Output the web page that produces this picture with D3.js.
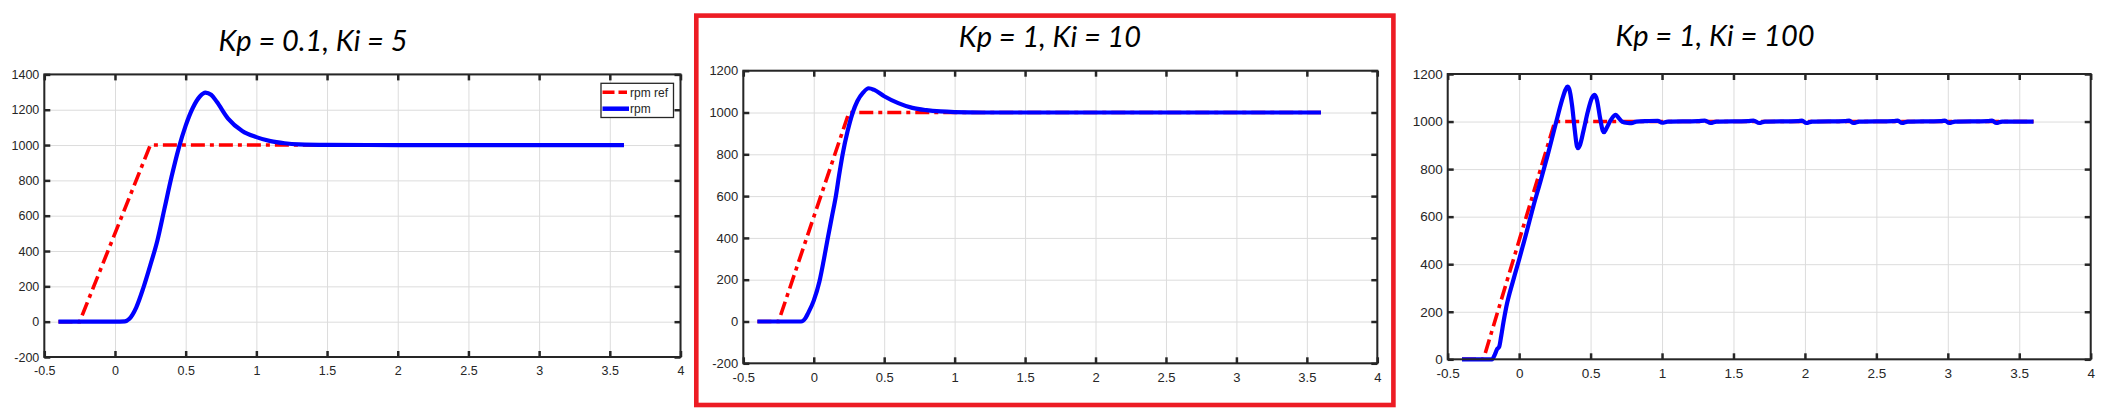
<!DOCTYPE html>
<html>
<head>
<meta charset="utf-8">
<script src="https://cdn.jsdelivr.net/npm/d3@7"></script>
<style>
  html, body { margin: 0; padding: 0; background: #ffffff; }
  svg { display: block; }
  .tick text { font-family: "Liberation Sans", Arial, sans-serif; fill: #262626; }
</style>
</head>
<body>
<svg id="chart" width="2110" height="420"></svg>
<script>
// ---------------- DATA ----------------
const titles = ["Kp = 0.1, Ki = 5", "Kp = 1, Ki = 10", "Kp = 1, Ki = 100"];
const seriesNames = ["rpm ref", "rpm"];
const xTicks = [-0.5, 0, 0.5, 1, 1.5, 2, 2.5, 3, 3.5, 4];
const yTicks1 = [-200, 0, 200, 400, 600, 800, 1000, 1200, 1400];
const yTicks2 = [-200, 0, 200, 400, 600, 800, 1000, 1200];
const yTicks3 = [0, 200, 400, 600, 800, 1000, 1200];

// reference speed (rpm ref), same ramp in all three runs
const refTime = [-0.4, -0.25, 0.25, 3.6];
const refRpm  = [0, 0, 1000, 1000];

// Kp = 0.1, Ki = 5
const p1Time = [-0.4, 0.0, 0.07, 0.1, 0.15, 0.2, 0.25, 0.3, 0.35, 0.4, 0.45, 0.5, 0.55, 0.6, 0.64, 0.68, 0.72, 0.8, 0.9, 1.0, 1.1, 1.2, 1.3, 1.5, 2.0, 3.6];
const p1Rpm  = [0, 0, 2, 15, 80, 190, 320, 460, 640, 820, 980, 1110, 1210, 1275, 1297, 1285, 1245, 1150, 1080, 1045, 1022, 1010, 1004, 1001, 1000, 1000];

// Kp = 1, Ki = 10
const p2Time = [-0.4, -0.09, -0.06, -0.04, 0.0, 0.04, 0.07, 0.1, 0.13, 0.157, 0.18, 0.205, 0.24, 0.277, 0.31, 0.35, 0.39, 0.43, 0.5, 0.6, 0.7, 0.8, 0.9, 1.0, 1.2, 3.6];
const p2Rpm  = [0, 0, 15, 40, 100, 190, 290, 400, 505, 600, 700, 800, 910, 1000, 1055, 1095, 1116, 1108, 1078, 1045, 1022, 1011, 1005, 1002, 1000, 1000];

// Kp = 1, Ki = 100
const p3Time = [-0.4, -0.19, -0.17, -0.155, -0.14, -0.125, -0.11, -0.09, -0.04, 0.0, 0.05, 0.1, 0.15, 0.2, 0.26, 0.3, 0.325, 0.338, 0.35, 0.37, 0.39, 0.405, 0.413, 0.425, 0.45, 0.48, 0.51, 0.529, 0.545, 0.565, 0.585, 0.594, 0.61, 0.64, 0.665, 0.676, 0.69, 0.72, 0.76, 0.786, 0.82, 0.9, 0.97, 1.0, 1.04, 1.25, 1.3, 1.34, 1.38, 1.6, 1.64, 1.68, 1.72, 1.95, 1.98, 2.01, 2.05, 2.28, 2.31, 2.34, 2.38, 2.62, 2.65, 2.68, 2.72, 2.95, 2.98, 3.01, 3.05, 3.28, 3.31, 3.34, 3.38, 3.6];
const p3Rpm  = [0, 0, 20, 42, 52, 100, 155, 220, 335, 420, 530, 645, 750, 860, 1000, 1090, 1135, 1147, 1138, 1070, 960, 895, 888, 900, 960, 1040, 1100, 1112, 1090, 1020, 962, 955, 970, 1005, 1025, 1028, 1020, 1000, 994, 993, 1000, 1002, 1003, 995, 1000, 1002, 1004, 994, 1000, 1002, 1004, 994, 1000, 1002, 1004, 994, 1000, 1002, 1004, 994, 1000, 1002, 1004, 994, 1000, 1002, 1004, 994, 1000, 1002, 1004, 994, 1000, 1000];

// ---------------- DRAW ----------------
const svg = d3.select("#chart");
const REF_COLOR = "#ff0000", RPM_COLOR = "#0000ff", AX = "#262626", GRID = "#dcdcdc";

const panels = [
  { title: 0, time: p1Time, rpm: p1Rpm, yTicks: yTicks1, L: 44.3, R: 680.5, T: 74.4, B: 357, fs: 12.5, titleX: 313, titleY: 51, legend: true },
  { title: 1, time: p2Time, rpm: p2Rpm, yTicks: yTicks2, L: 743.3, R: 1377.3, T: 70.7, B: 363.3, fs: 13, titleX: 1050, titleY: 46.5, legend: false },
  { title: 2, time: p3Time, rpm: p3Rpm, yTicks: yTicks3, L: 1447.7, R: 2090.7, T: 74, B: 359.3, fs: 13.5, titleX: 1715, titleY: 46, legend: false }
];

function drawPanel(p) {
  const g = svg.append("g");
  const x = d3.scaleLinear().domain([xTicks[0], xTicks[xTicks.length - 1]]).range([p.L, p.R]);
  const yDom = d3.extent(p.yTicks);
  const y = d3.scaleLinear().domain(yDom).range([p.B, p.T]);
  const W = p.R - p.L, H = p.B - p.T;

  g.append("rect").attr("x", p.L).attr("y", p.T).attr("width", W).attr("height", H).attr("fill", "#fff");

  // grid
  const gx = g.append("g").attr("transform", `translate(0,${p.B})`)
    .call(d3.axisBottom(x).tickValues(xTicks).tickSize(-H).tickFormat(""));
  gx.select(".domain").remove();
  gx.selectAll("line").attr("stroke", GRID).attr("stroke-width", 1);
  const gy = g.append("g").attr("transform", `translate(${p.L},0)`)
    .call(d3.axisLeft(y).tickValues(p.yTicks).tickSize(-W).tickFormat(""));
  gy.select(".domain").remove();
  gy.selectAll("line").attr("stroke", GRID).attr("stroke-width", 1);

  // data lines
  const refData = refTime.map((t, i) => [t, refRpm[i]]);
  const rpmData = p.time.map((t, i) => [t, p.rpm[i]]);
  const lineLinear = d3.line().x(d => x(d[0])).y(d => y(d[1]));
  const lineSmooth = d3.line().x(d => x(d[0])).y(d => y(d[1])).curve(d3.curveMonotoneX);

  g.append("path").datum(refData).attr("d", lineLinear)
    .attr("fill", "none").attr("stroke", REF_COLOR).attr("stroke-width", 3.6)
    .attr("stroke-dasharray", "14,5,4,5");
  g.append("path").datum(rpmData).attr("d", lineSmooth)
    .attr("fill", "none").attr("stroke", RPM_COLOR).attr("stroke-width", 4.2)
    .attr("stroke-linejoin", "round");

  // axes with inward ticks
  const fmt = d => String(d);
  const styleAxis = (sel, labels) => {
    sel.select(".domain").remove();
    sel.selectAll(".tick line").attr("stroke", AX).attr("stroke-width", 2.5);
    if (labels) sel.selectAll(".tick text").attr("font-size", p.fs + "px").attr("fill", AX);
    else sel.selectAll(".tick text").remove();
  };
  g.append("g").attr("transform", `translate(0,${p.B})`)
    .call(d3.axisBottom(x).tickValues(xTicks).tickSize(-6).tickPadding(9).tickFormat(fmt))
    .call(s => styleAxis(s, true));
  g.append("g").attr("transform", `translate(0,${p.T})`)
    .call(d3.axisTop(x).tickValues(xTicks).tickSize(-6).tickFormat(fmt))
    .call(s => styleAxis(s, false));
  g.append("g").attr("transform", `translate(${p.L},0)`)
    .call(d3.axisLeft(y).tickValues(p.yTicks).tickSize(-6).tickPadding(5).tickFormat(fmt))
    .call(s => styleAxis(s, true));
  g.append("g").attr("transform", `translate(${p.R},0)`)
    .call(d3.axisRight(y).tickValues(p.yTicks).tickSize(-6).tickFormat(fmt))
    .call(s => styleAxis(s, false));

  // box
  g.append("rect").attr("x", p.L).attr("y", p.T).attr("width", W).attr("height", H)
    .attr("fill", "none").attr("stroke", AX).attr("stroke-width", 2);

  // title
  svg.append("text").attr("x", p.titleX).attr("y", p.titleY)
    .attr("text-anchor", "middle")
    .attr("font-family", "Lato, 'Open Sans', sans-serif")
    .attr("font-style", "italic").attr("font-weight", 400)
    .attr("font-size", "29px").attr("fill", "#000")
    .text(titles[p.title]);

  if (p.legend) {
    const lx = 601, ly = 83.3, lw = 72.5, lh = 34.2;
    const lg = svg.append("g");
    lg.append("rect").attr("x", lx).attr("y", ly).attr("width", lw).attr("height", lh)
      .attr("fill", "#fff").attr("stroke", AX).attr("stroke-width", 1.3);
    lg.append("line").attr("x1", lx + 1.5).attr("x2", lx + 26).attr("y1", ly + 9).attr("y2", ly + 9)
      .attr("stroke", REF_COLOR).attr("stroke-width", 3.5).attr("stroke-dasharray", "12,4");
    lg.append("line").attr("x1", lx + 1.5).attr("x2", lx + 28).attr("y1", ly + 25.4).attr("y2", ly + 25.4)
      .attr("stroke", RPM_COLOR).attr("stroke-width", 4.5);
    lg.append("text").attr("x", lx + 29).attr("y", ly + 13.5)
      .attr("font-family", "'Liberation Sans', Arial, sans-serif").attr("font-size", "12px").attr("fill", AX)
      .text(seriesNames[0]);
    lg.append("text").attr("x", lx + 29).attr("y", ly + 29.5)
      .attr("font-family", "'Liberation Sans', Arial, sans-serif").attr("font-size", "12px").attr("fill", AX)
      .text(seriesNames[1]);
  }
}

panels.forEach(drawPanel);

// highlight frame around the middle run
svg.append("rect").attr("x", 696.3).attr("y", 15.6).attr("width", 697.1).attr("height", 389.4)
  .attr("fill", "none").attr("stroke", "#ed1c24").attr("stroke-width", 4.6);
</script>
</body>
</html>
